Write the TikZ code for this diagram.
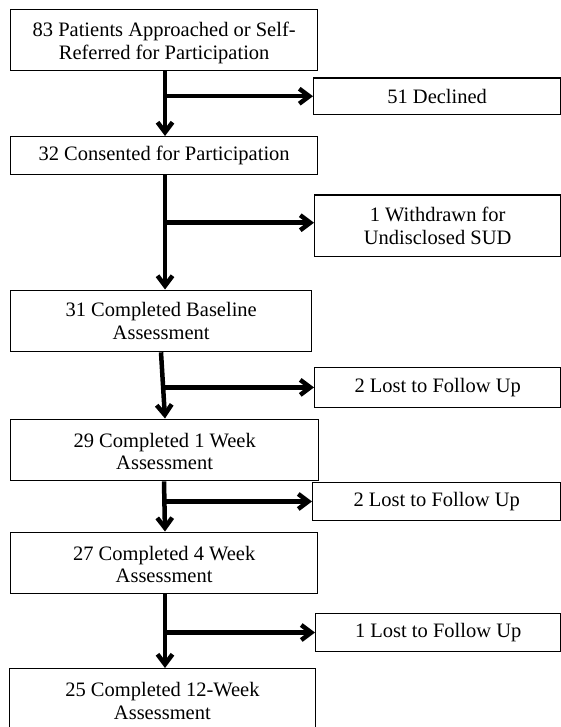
\documentclass[tikz,border=0pt]{standalone}
\usepackage{fontspec}
\setmainfont{Liberation Serif}
\usetikzlibrary{arrows.meta}
\begin{document}
\begin{tikzpicture}[x=1pt,y=-1pt,
  box/.style={draw, line width=1.3pt, anchor=north west, inner sep=0pt, align=center,
    font=\fontsize{20.5}{22.5}\selectfont},
  arr/.style={line width=4.5pt, -{Straight Barb[length=10pt,width=15pt]}}]
\useasboundingbox (0,0) rectangle (561,727);
\node[box, minimum width=307pt, minimum height=61pt] (n1) at (10,9) {\rule{0pt}{20pt}83 Patients Approached or Self-\\Referred for Participation};
\node[box, minimum width=307pt, minimum height=38pt] (n2) at (10,136) {32 Consented for Participation};
\node[box, minimum width=301pt, minimum height=61.5pt] (n3) at (10,289.5) {31 Completed Baseline\\Assessment};
\node[box, minimum width=308pt, minimum height=61.5pt] (n4) at (10,418.5) {\rule{0pt}{17pt}29 Completed 1 Week\\Assessment};
\node[box, minimum width=307pt, minimum height=61.5pt] (n5) at (10,531.5) {\rule{0pt}{17pt}27 Completed 4 Week\\Assessment};
\node[box, minimum width=306.5pt, minimum height=65pt] (n6) at (8.5,668) {25 Completed 12-Week\\Assessment};
\node[box, minimum width=247pt, minimum height=36.5pt] (s1) at (313,77.3) {51 Declined};
\node[box, minimum width=246pt, minimum height=61.5pt] (s2) at (314,194.3) {1 Withdrawn for\\Undisclosed SUD};
\node[box, minimum width=246pt, minimum height=39.5pt] (s3) at (314,367) {2 Lost to Follow Up};
\node[box, minimum width=248pt, minimum height=37.6pt] (s4) at (312,482) {2 Lost to Follow Up};
\node[box, minimum width=245pt, minimum height=37.7pt] (s5) at (315,613) {1 Lost to Follow Up};
\coordinate (t) at (165,0);
\coordinate (s2in) at ([yshift=3pt]s2.west);
\draw[arr] (n1.south -| t) -- (n2.north -| t);
\draw[arr] (n2.south -| t) -- (n3.north -| t);
\draw[arr] ([xshift=-4pt]n3.south -| t) -- (n4.north -| t);
\draw[arr] ([xshift=-1pt]n4.south -| t) -- (n5.north -| t);
\draw[arr] (n5.south -| t) -- (n6.north -| t);
\draw[arr] (t |- s1.west) -- (s1.west);
\draw[arr] (t |- s2in) -- (s2in);
\draw[arr] (t |- s3.west) -- (s3.west);
\draw[arr] (t |- s4.west) -- (s4.west);
\draw[arr] (t |- s5.west) -- (s5.west);
\end{tikzpicture}
\end{document}
